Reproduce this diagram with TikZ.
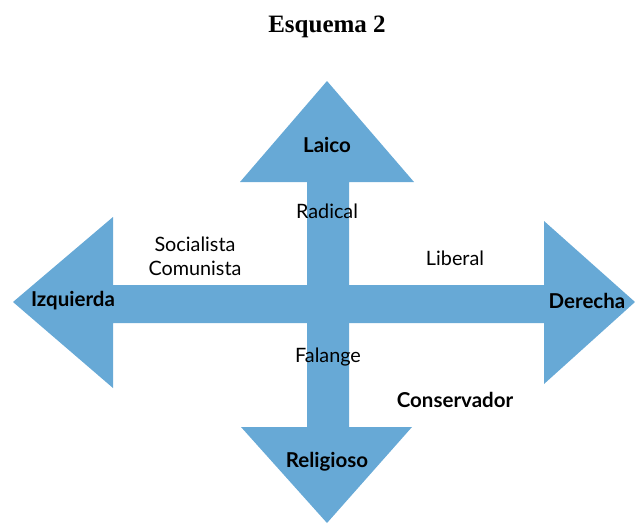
\documentclass[tikz,border=0pt]{standalone}
\usepackage{fontspec}
\setmainfont{Lato}
\newfontfamily\titlefont{Liberation Serif}
\definecolor{arrowblue}{RGB}{103,169,214}
\begin{document}
\begin{tikzpicture}[x=1pt,y=-1pt,
  lbl/.style={font=\fontsize{19.8}{24}\selectfont, inner sep=0pt, align=center},
  blbl/.style={font=\fontsize{20.5}{24}\selectfont\bfseries, inner sep=0pt},
  arrowshape/.style={fill=arrowblue, draw=none}]
\useasboundingbox (0,0) rectangle (635,523);
% vertical double arrow
\fill[arrowshape] (327,81) -- (414,182) -- (349,182) -- (349,427) -- (412,427) -- (327,523)
  -- (241,427) -- (307,427) -- (307,182) -- (240,182) -- cycle;
% horizontal double arrow
\fill[arrowshape] (13,302) -- (113,217) -- (113,285) -- (544,285) -- (544,221) -- (635,302)
  -- (544,384) -- (544,323) -- (113,323) -- (113,388) -- cycle;
\node[font=\titlefont\fontsize{25}{30}\selectfont\bfseries, inner sep=0pt] (title) at (327,27) {Esquema 2};
\node[blbl] (laico) at (327,145) {Laico};
\node[lbl] (radical) at (327,211) {Radical};
\node[lbl] (soc) at (195,256) {Socialista\\Comunista};
\node[blbl] (izq) at (73,301) {Izquierda};
\node[lbl] (liberal) at (455,258) {Liberal};
\node[blbl] (der) at (587,301) {Derecha};
\node[lbl] (falange) at (328,357) {Falange};
\node[blbl] (cons) at (455,400) {Conservador};
\node[blbl] (rel) at (327,462) {Religioso};
\end{tikzpicture}
\end{document}
